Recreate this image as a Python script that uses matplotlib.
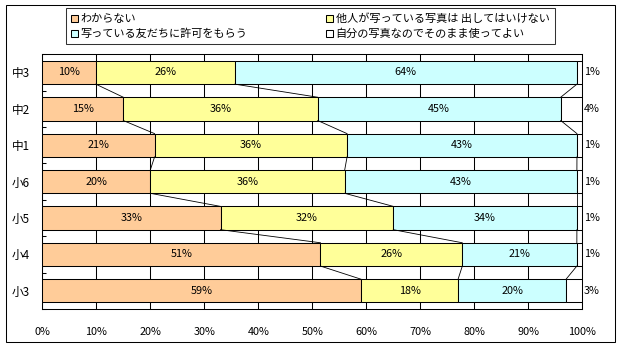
import matplotlib
matplotlib.use("Agg")
import matplotlib.pyplot as plt
from matplotlib.patches import Rectangle
import numpy as np

plt.rcParams['font.family'] = ['Noto Sans CJK JP', 'DejaVu Sans']

categories = ["中3", "中2", "中1", "小6", "小5", "小4", "小3"]
series_names = ["わからない", "他人が写っている写真は 出してはいけない",
                "写っている友だちに許可をもらう", "自分の写真なのでそのまま使ってよい"]
s_unknown = [10, 15, 21, 20, 33, 51, 59]
s_others = [26, 36, 36, 36, 32, 26, 18]
s_permission = [64, 45, 43, 43, 34, 21, 20]
s_ok = [1, 4, 1, 1, 1, 1, 3]
colors = ["#FFCC99", "#FFFF99", "#CCFFFF", "#FFFFFF"]
xticks = [0, 10, 20, 30, 40, 50, 60, 70, 80, 90, 100]

W, H = 623, 347
fig = plt.figure(figsize=(W / 100, H / 100), dpi=100)
fs = 7.8
lw = 0.75

# outer frame
fig.patches.append(Rectangle((6 / W, 1 - 342 / H), (615 - 6) / W, (342 - 5) / H,
                             transform=fig.transFigure, fill=False, edgecolor="black",
                             linewidth=lw, zorder=0))

ax = fig.add_axes([42.3 / W, 1 - 309 / H, (582.3 - 42.3) / W, (309 - 54.3) / H])

data = np.array([s_unknown, s_others, s_permission, s_ok], dtype=float)
raw = data.copy()
pct = data / data.sum(axis=0) * 100
y = np.arange(len(categories))
bh = 0.64
left = np.zeros(len(categories))
handles = []
cum = []
for i in range(4):
    b = ax.barh(y, pct[i], left=left, height=bh, color=colors[i], edgecolor="black",
                linewidth=lw, zorder=3, label=series_names[i])
    handles.append(b)
    for j in range(len(categories)):
        txt = f"{int(raw[i, j])}%"
        if i < 3:
            ax.text(left[j] + pct[i, j] / 2, y[j], txt, ha="center", va="center",
                    fontsize=fs, zorder=5)
        else:
            ax.annotate(txt, xy=(1.0, y[j]), xycoords=("axes fraction", "data"),
                        xytext=(7, 0), textcoords="offset points", ha="center",
                        va="center", fontsize=fs, annotation_clip=False)
    left = left + pct[i]
    cum.append(left.copy())

# series lines
for c in cum[:3]:
    for j in range(len(categories) - 1):
        ax.plot([c[j], c[j + 1]], [y[j] + bh / 2, y[j + 1] - bh / 2], color="black",
                linewidth=0.6, zorder=4)

ax.set_xlim(0, 100)
ax.set_ylim(len(categories) - 0.5, -0.5)
ax.set_xticks(xticks)
ax.set_xticklabels([f"{t}%" for t in xticks], fontsize=fs)
ax.tick_params(axis="x", length=0, pad=13)
ax.set_yticks(y)
ax.set_yticklabels(categories, fontsize=fs + 0.6)
ax.tick_params(axis="y", which="major", length=0, pad=9)
ax.set_yticks(np.arange(len(categories) + 1) - 0.5, minor=True)
ax.tick_params(axis="y", which="minor", direction="in", length=3, width=lw)
ax.grid(axis="x", color="black", linewidth=lw, zorder=1)
ax.set_axisbelow(True)
for s in ax.spines.values():
    s.set_linewidth(lw)

order = [0, 2, 1, 3]
leg = fig.legend([handles[k] for k in order], [series_names[k] for k in order],
                 ncol=2, loc="upper left", bbox_to_anchor=(65.7 / W, 1 - 8 / H),
                 fontsize=8.0, frameon=True, fancybox=False, edgecolor="black",
                 handlelength=0.6, handleheight=0.6, handletextpad=0.25,
                 columnspacing=7.1, borderpad=0.47, labelspacing=0.4,
                 borderaxespad=0)
leg.get_frame().set_linewidth(lw)

fig.savefig("out.png", dpi=100)
